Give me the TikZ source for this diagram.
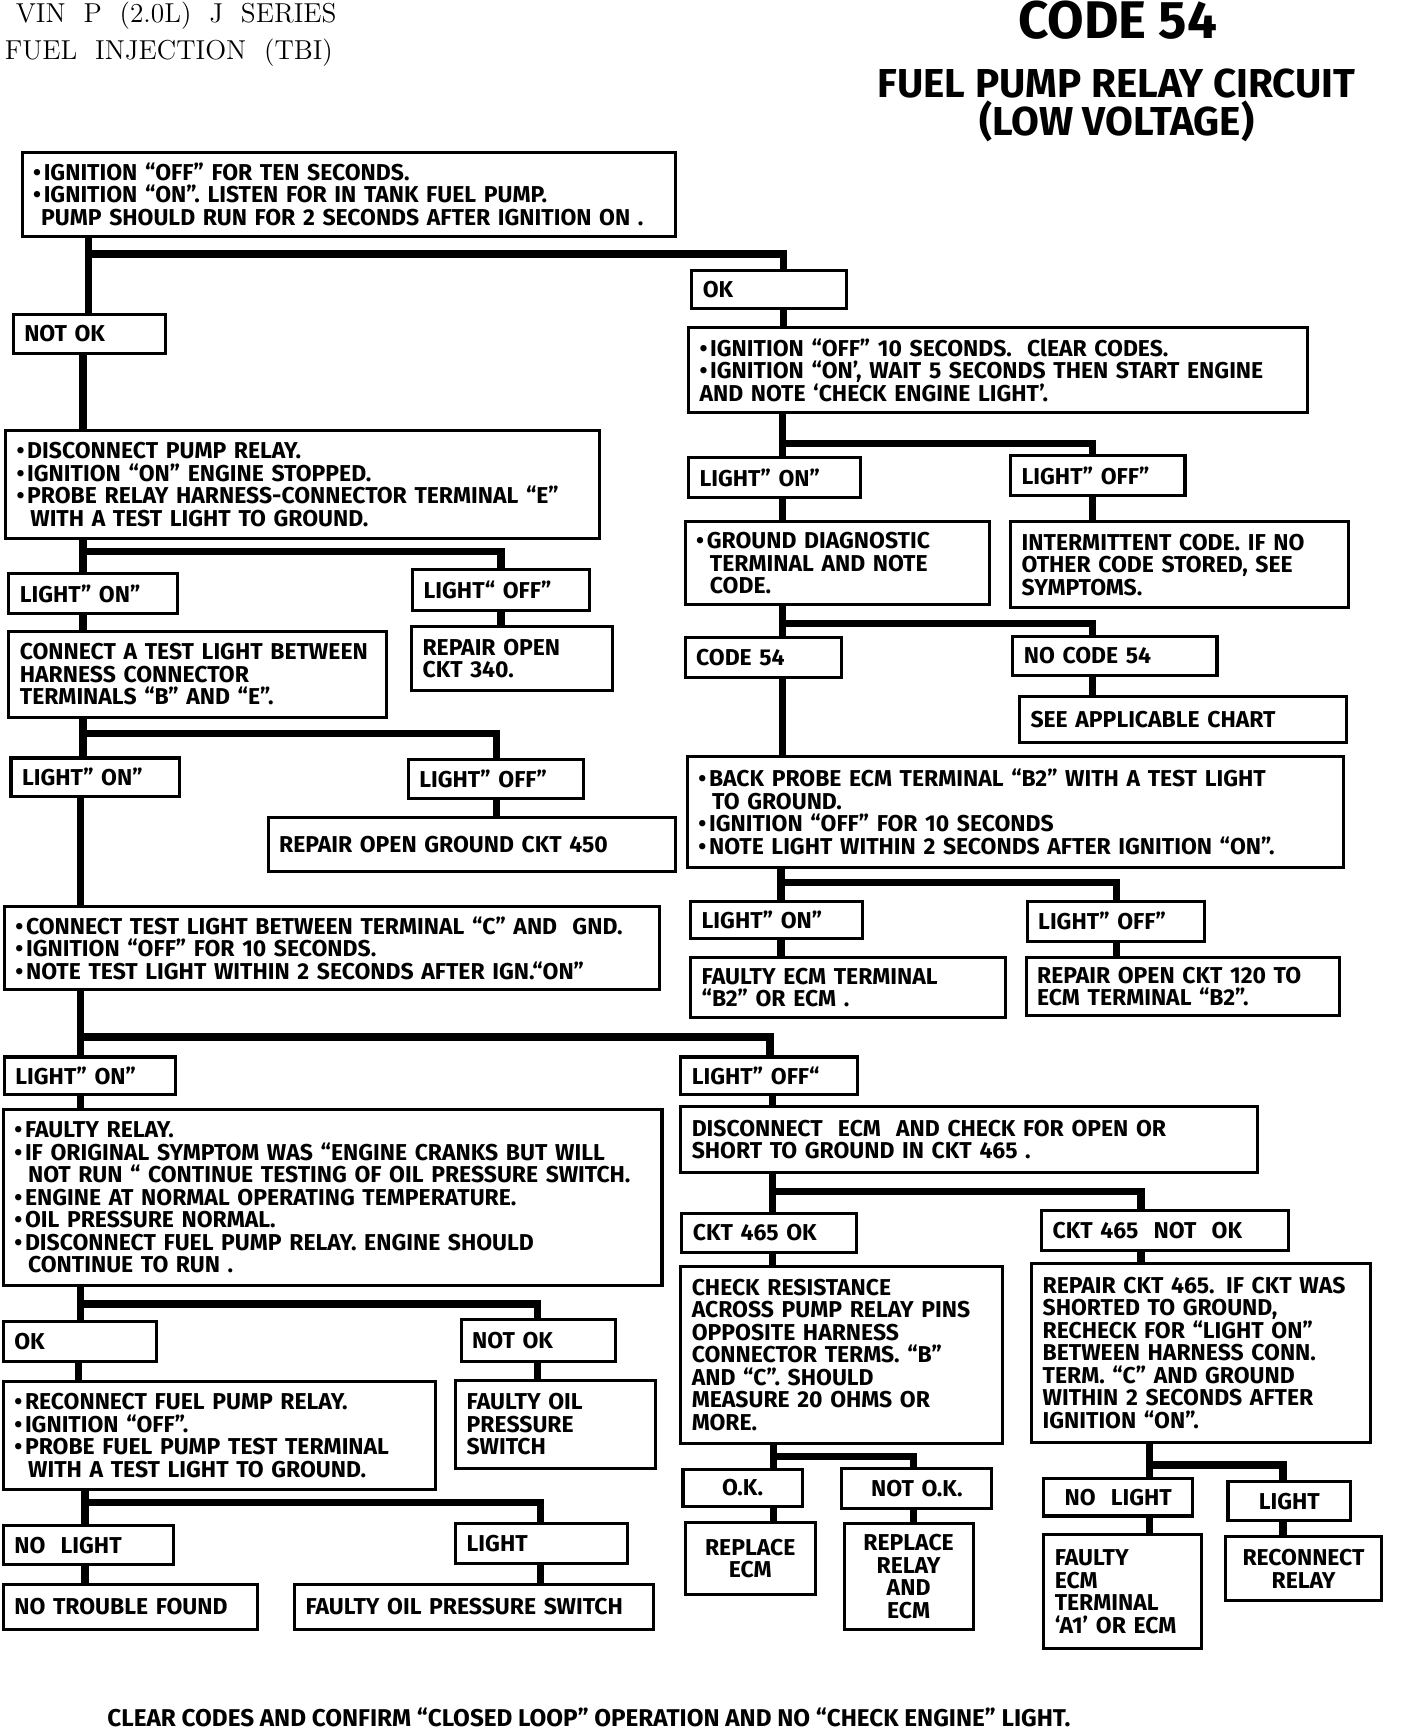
\documentclass[tikz,border=0pt]{standalone}
\usepackage{fontspec}
\newfontfamily\ff{Fira Sans}
\newcommand\bul{•\hspace{0.12em}}
\newcommand\ind{\hspace*{0.6em}}
\newcommand\bx[7][left]{%
  \pgfmathsetmacro\bxw{(#5-#3)/2-10}%
  \pgfmathsetmacro\bxh{(#6-#4)/2}%
  \node[box, align=#1, text width=\bxw pt, minimum height=\bxh pt] (#2) at ({(#3+#5)/2},{(#4+#6)/2}) {#7};}
\newcommand\vl[3]{\coordinate (vtmp) at (#3,0);
  \draw[conn] (#1.south -| vtmp) -- (#2.north -| vtmp);}
\newcommand\br[6]{\coordinate (#1-jl) at (#4,#5); \coordinate (#1-jr) at (#6,#5);
  \draw[conn] (#1.south -| #1-jl) -- (#2.north -| #1-jl);
  \draw[conn] (#1-jl) -- (#1-jr) -- (#3.north -| #1-jr);}
\begin{document}
\begin{tikzpicture}[x=0.5pt,y=-0.5pt,
  txt/.style={font=\ff\bfseries\fontsize{10.4}{10.2}\selectfont},
  box/.style={draw, line width=1.4pt, inner xsep=5pt, inner ysep=0pt, txt},
  conn/.style={line width=3.4pt, line join=miter}]
\useasboundingbox (0,0) rectangle (1276,1568);
\fill[white] (0,0) rectangle (1276,1568);
% headers
\node[anchor=base west, inner sep=0, font=\fontsize{12.4}{14}\selectfont] (vin) at (14,20) {VIN\ \ P\ \ (2.0L)\ \ J\ \ SERIES};
\node[anchor=base west, inner sep=0, font=\fontsize{12.4}{14}\selectfont] (fi) at (4,54) {FUEL\ \ INJECTION\ \ (TBI)};
\node[anchor=base, inner sep=0, font=\ff\bfseries\fontsize{24}{24}\selectfont] (code) at (1013,35) {CODE 54};
\node[anchor=base, inner sep=0, font=\ff\bfseries\fontsize{18.3}{20}\selectfont] (title1) at (1012,88) {FUEL PUMP RELAY CIRCUIT};
\node[anchor=base, inner sep=0, font=\ff\bfseries\fontsize{18.3}{20}\selectfont] (title2) at (1012,123) {(LOW VOLTAGE)};
% left column
\bx{top}{20}{138}{612}{214}{\bul IGNITION “OFF” FOR TEN SECONDS.\\\bul IGNITION “ON”. LISTEN FOR IN TANK FUEL PUMP.\\\hspace*{0.35em}PUMP SHOULD RUN FOR 2 SECONDS AFTER IGNITION ON .}
\bx{ok1}{627}{245}{767}{280}{OK}
\bx{notok1}{12}{285}{150}{320}{NOT OK}
\bx{r1}{624}{297}{1185}{374}{\bul IGNITION “OFF” 10 SECONDS.\ \ ClEAR CODES.\\\bul IGNITION “ON’, WAIT 5 SECONDS THEN START ENGINE\\AND NOTE ‘CHECK ENGINE LIGHT’.}
\bx{l1}{5}{390}{543}{488}{\bul DISCONNECT PUMP RELAY.\\\bul IGNITION “ON” ENGINE STOPPED.\\\bul PROBE RELAY HARNESS-CONNECTOR TERMINAL “E”\\\ind WITH A TEST LIGHT TO GROUND.}
\bx{lon1}{8}{520}{161}{556}{LIGHT” ON”}
\bx{loff1}{374}{516}{534}{553}{LIGHT“ OFF”}
\bx{l2}{8}{572}{350}{650}{CONNECT A TEST LIGHT BETWEEN\\HARNESS CONNECTOR\\TERMINALS “B” AND “E”.}
\bx{rep340}{373}{568}{555}{626}{REPAIR OPEN\\CKT 340.}
\bx{lon2}{10}{687}{163}{722}{LIGHT” ON”}
\bx{loff2}{370}{688}{529}{724}{LIGHT” OFF”}
\bx{rep450}{243}{741}{612}{790}{REPAIR OPEN GROUND CKT 450}
\bx{l3}{4}{822}{598}{897}{\bul CONNECT TEST LIGHT BETWEEN TERMINAL “C” AND\ \ GND.\\\bul IGNITION “OFF” FOR 10 SECONDS.\\\bul NOTE TEST LIGHT WITHIN 2 SECONDS AFTER IGN.“ON”}
\bx{lon3}{4}{958}{159}{992}{LIGHT” ON”}
\bx{loff3}{617}{958}{777}{992}{LIGHT” OFF“}
\bx{l4}{3}{1006}{600}{1165}{\bul FAULTY RELAY.\\\bul IF ORIGINAL SYMPTOM WAS “ENGINE CRANKS BUT WILL\\\ind NOT RUN “ CONTINUE TESTING OF OIL PRESSURE SWITCH.\\\bul ENGINE AT NORMAL OPERATING TEMPERATURE.\\\bul OIL PRESSURE NORMAL.\\\bul DISCONNECT FUEL PUMP RELAY. ENGINE SHOULD\\\ind CONTINUE TO RUN .}
\bx{r4}{617}{1003}{1140}{1063}{DISCONNECT\ \ ECM\ \ AND CHECK FOR OPEN OR\\SHORT TO GROUND IN CKT 465 .}
\bx{ok2}{3}{1198}{142}{1234}{OK}
\bx{notok2}{418}{1196}{558}{1234}{NOT OK}
\bx{l5}{3}{1252}{395}{1350}{\bul RECONNECT FUEL PUMP RELAY.\\\bul IGNITION “OFF”.\\\bul PROBE FUEL PUMP TEST TERMINAL\\\ind WITH A TEST LIGHT TO GROUND.}
\bx{fops1}{413}{1251}{594}{1331}{FAULTY OIL\\PRESSURE\\SWITCH}
\bx{nol1}{3}{1383}{157}{1418}{NO\ \ LIGHT}
\bx{li1}{413}{1381}{569}{1417}{LIGHT}
\bx{ntf}{3}{1436}{233}{1477}{NO TROUBLE FOUND}
\bx{fops2}{267}{1436}{592}{1477}{FAULTY OIL PRESSURE SWITCH}
% right column
\bx{lon4}{624}{415}{780}{451}{LIGHT” ON”}
\bx{loff4}{916}{413}{1074}{449}{LIGHT” OFF”}
\bx{gd}{621}{473}{897}{548}{\bul GROUND DIAGNOSTIC\\\ind TERMINAL AND NOTE\\\ind CODE.}
\bx{inter}{916}{473}{1222}{551}{INTERMITTENT CODE. IF NO\\OTHER CODE STORED, SEE\\SYMPTOMS.}
\bx{c54}{621}{578}{763}{614}{CODE 54}
\bx{nc54}{918}{577}{1103}{612}{NO CODE 54}
\bx{see}{924}{631}{1220}{673}{SEE APPLICABLE CHART}
\bx{bp}{623}{686}{1218}{786}{\bul BACK PROBE ECM TERMINAL “B2” WITH A TEST LIGHT\\\ind TO GROUND.\\\bul IGNITION “OFF” FOR 10 SECONDS\\\bul NOTE LIGHT WITHIN 2 SECONDS AFTER IGNITION “ON”.}
\bx{lon5}{626}{817}{782}{851}{LIGHT” ON”}
\bx{loff5}{931}{817}{1092}{853}{LIGHT” OFF”}
\bx{fe}{626}{868}{911}{922}{FAULTY ECM TERMINAL\\“B2” OR ECM .}
\bx{rep120}{930}{868}{1214}{920}{REPAIR OPEN CKT 120 TO\\ECM TERMINAL “B2”.}
\bx{ck1}{618}{1100}{776}{1135}{CKT 465 OK}
\bx{ck2}{944}{1097}{1168}{1133}{CKT 465\ \ NOT\ \ OK}
\bx{cr}{617}{1148}{909}{1308}{CHECK RESISTANCE\\ACROSS PUMP RELAY PINS\\OPPOSITE HARNESS\\CONNECTOR TERMS. “B”\\AND “C”. SHOULD\\MEASURE 20 OHMS OR\\MORE.}
\bx{rep465}{935}{1145}{1242}{1307}{REPAIR CKT 465. IF CKT WAS\\SHORTED TO GROUND,\\RECHECK FOR “LIGHT ON”\\BETWEEN HARNESS CONN.\\TERM. “C” AND GROUND\\WITHIN 2 SECONDS AFTER\\IGNITION “ON”.}
\bx[center]{ok3}{619}{1332}{727}{1365}{O.K.}
\bx[center]{notok3}{763}{1331}{899}{1367}{NOT O.K.}
\bx[center]{recm}{621}{1380}{739}{1445}{REPLACE\\ECM}
\bx[center]{rrae}{765}{1381}{882}{1477}{REPLACE\\RELAY\\AND\\ECM}
\bx[center]{nol2}{946}{1340}{1081}{1374}{NO\ \ LIGHT}
\bx[center]{li2}{1113}{1343}{1224}{1378}{LIGHT}
\bx{fe2}{946}{1391}{1089}{1494}{FAULTY\\ECM\\TERMINAL\\‘A1’ OR ECM}
\bx[center]{rr}{1111}{1393}{1252}{1451}{RECONNECT\\RELAY}
% footer
\node[anchor=base west, inner sep=0, font=\ff\bfseries\fontsize{11}{12}\selectfont] (foot) at (97,1565) {CLEAR CODES AND CONFIRM “CLOSED LOOP” OPERATION AND NO “CHECK ENGINE” LIGHT.};
% connectors left
\br{top}{notok1}{ok1}{80}{230}{710}
\vl{notok1}{l1}{75}
\vl{ok1}{r1}{710}
\br{l1}{lon1}{loff1}{75}{500}{454}
\vl{lon1}{l2}{75}
\vl{loff1}{rep340}{454}
\br{l2}{lon2}{loff2}{75}{665}{450}
\vl{loff2}{rep450}{450}
\vl{lon2}{l3}{73}
\br{l3}{lon3}{loff3}{73}{940}{698}
\vl{lon3}{l4}{73}
\vl{loff3}{r4}{700}
\br{l4}{ok2}{notok2}{73}{1182}{487}
\vl{ok2}{l5}{71}
\vl{notok2}{fops1}{487}
\br{l5}{nol1}{li1}{77}{1362}{490}
\vl{nol1}{ntf}{77}
\vl{li1}{fops2}{490}
% connectors right
\br{r1}{lon4}{loff4}{709}{402}{990}
\vl{lon4}{gd}{709}
\vl{loff4}{inter}{990}
\br{gd}{c54}{nc54}{709}{565}{990}
\vl{nc54}{see}{990}
\vl{c54}{bp}{709}
\br{bp}{lon5}{loff5}{708}{800}{1012}
\vl{lon5}{fe}{708}
\vl{loff5}{rep120}{1012}
\br{r4}{ck1}{ck2}{700}{1080}{1034}
\vl{ck1}{cr}{700}
\vl{ck2}{rep465}{1034}
\br{cr}{ok3}{notok3}{701}{1320}{828}
\vl{ok3}{recm}{701}
\vl{notok3}{rrae}{828}
\br{rep465}{nol2}{li2}{1042}{1328}{1163}
\vl{nol2}{fe2}{1042}
\vl{li2}{rr}{1163}
\end{tikzpicture}
\end{document}
